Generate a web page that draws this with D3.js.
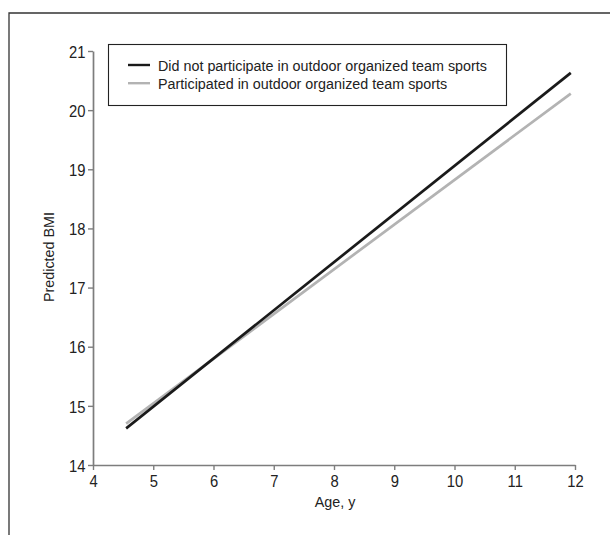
<!DOCTYPE html>
<html>
<head>
<meta charset="utf-8">
<script src="https://cdn.jsdelivr.net/npm/d3@7"></script>
<style>
  html, body { margin: 0; padding: 0; background: #fff; }
  svg { display: block; }
  text { font-family: "Liberation Sans", Arial, sans-serif; fill: #222; }
</style>
</head>
<body>
<svg id="chart" width="610" height="535"></svg>
<script>
// ---- data ----
const seriesNames = [
  "Did not participate in outdoor organized team sports",
  "Participated in outdoor organized team sports"
];
const ages = [4.55, 11.93];
const bmiNotParticipated = [14.62, 20.63];
const bmiParticipated = [14.70, 20.28];
const xTicks = [4, 5, 6, 7, 8, 9, 10, 11, 12];
const yTicks = [14, 15, 16, 17, 18, 19, 20, 21];
const seriesColors = ["#1a1a1a", "#b3b3b3"];

const FS = 15.5, SX = 0.925;     // titles & legend
const TFS = 17.2, TSX = 0.86;    // tick labels

const svg = d3.select("#chart");

// outer frame (only top and left visible)
svg.append("path")
  .attr("d", "M9,535 L9,13 L610,13")
  .attr("fill", "none").attr("stroke", "#333").attr("stroke-width", 1.3);

const x = d3.scaleLinear().domain([4, 12]).range([93, 575]);
const y = d3.scaleLinear().domain([14, 21]).range([465, 51]);

const axisColor = "#7d7d7d";

// x axis
const gx = svg.append("g").attr("transform", "translate(0,465)")
  .call(d3.axisBottom(x).tickValues(xTicks).tickFormat(d3.format("d")).tickSize(5).tickSizeOuter(0));
gx.selectAll(".tick text")
  .attr("y", 0).attr("dy", null)
  .attr("transform", `translate(0,22) scale(${TSX},1)`);

// y axis
const gy = svg.append("g").attr("transform", "translate(93,0)")
  .call(d3.axisLeft(y).tickValues(yTicks).tickFormat(d3.format("d")).tickSize(5).tickSizeOuter(0));
gy.selectAll(".tick text")
  .attr("x", 0).attr("dy", null).attr("y", 0)
  .attr("transform", `translate(-7.5,6.2) scale(${TSX},1)`);

[gx, gy].forEach(g => {
  g.select(".domain").attr("stroke", axisColor).attr("stroke-width", 1.7);
  g.selectAll(".tick line").attr("stroke", axisColor).attr("stroke-width", 1.4);
  g.selectAll(".tick text").attr("font-size", TFS).attr("fill", "#222")
    .style("font-family", '"Liberation Sans", Arial, sans-serif');
});

// axis titles
svg.append("text")
  .attr("transform", `translate(335,507) scale(${SX},1)`)
  .attr("text-anchor", "middle").attr("font-size", FS)
  .text("Age, y");
svg.append("text")
  .attr("transform", `translate(53.5,257) rotate(-90) scale(${SX},1)`)
  .attr("text-anchor", "middle").attr("font-size", FS)
  .text("Predicted BMI");

// lines
const line = d3.line().x(d => x(d[0])).y(d => y(d[1]));
const series = [
  ages.map((a, i) => [a, bmiParticipated[i]]),
  ages.map((a, i) => [a, bmiNotParticipated[i]])
];
svg.append("path").datum(series[0])
  .attr("d", line).attr("fill", "none")
  .attr("stroke", seriesColors[1]).attr("stroke-width", 2.7);
svg.append("path").datum(series[1])
  .attr("d", line).attr("fill", "none")
  .attr("stroke", seriesColors[0]).attr("stroke-width", 2.7);

// legend
const lg = svg.append("g");
lg.append("rect")
  .attr("x", 108.5).attr("y", 44.5).attr("width", 398).attr("height", 61)
  .attr("fill", "#fff").attr("stroke", "#222").attr("stroke-width", 1.1);
seriesNames.forEach((name, i) => {
  const yy = 65 + i * 18.2;
  lg.append("line").attr("x1", 128).attr("x2", 150).attr("y1", yy).attr("y2", yy)
    .attr("stroke", seriesColors[i]).attr("stroke-width", 2.4);
  lg.append("text")
    .attr("transform", `translate(158,${yy + 5.8}) scale(${SX},1)`)
    .attr("font-size", FS).text(name);
});
</script>
</body>
</html>
